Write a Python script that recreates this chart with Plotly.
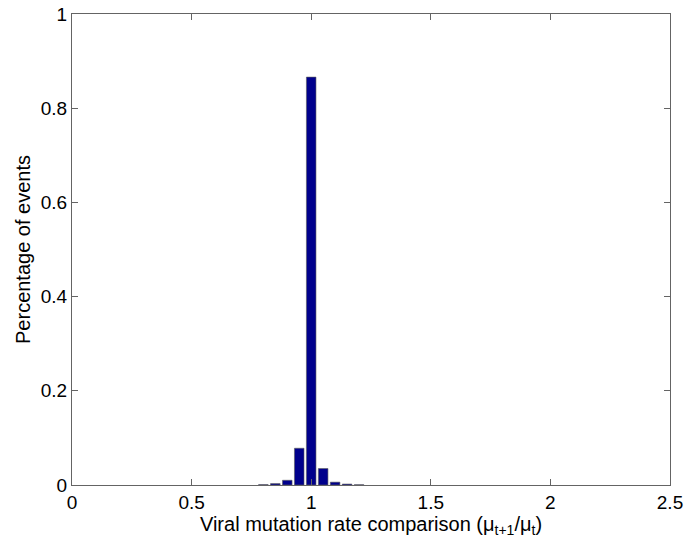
import plotly.graph_objects as go

bin_centers = [0.8, 0.85, 0.9, 0.95, 1.0, 1.05, 1.1, 1.15, 1.2]
fractions = [0.0008, 0.003, 0.010, 0.078, 0.866, 0.035, 0.006, 0.002, 0.0006]
x_ticks = [0, 0.5, 1, 1.5, 2, 2.5]
x_tick_labels = ["0", "0.5", "1", "1.5", "2", "2.5"]
y_ticks = [0, 0.2, 0.4, 0.6, 0.8, 1]
y_tick_labels = ["0", "0.2", "0.4", "0.6", "0.8", "1"]

fig = go.Figure(go.Bar(
    x=bin_centers, y=fractions, width=0.04,
    marker=dict(color="rgb(0,0,140)", line=dict(color="rgb(90,90,90)", width=0.6)),
))

tick_font = dict(family="Liberation Sans, Arial, sans-serif", size=19, color="black")
title_font = dict(family="Liberation Sans, Arial, sans-serif", size=20, color="black")
axis_common = dict(showline=True, mirror="ticks", linecolor="rgb(100,100,100)", linewidth=1,
                   ticks="inside", ticklen=6, tickcolor="rgb(100,100,100)",
                   showgrid=False, zeroline=False, tickfont=tick_font, automargin=False)

fig.update_layout(
    width=687, height=544,
    margin=dict(l=72, r=17, t=14, b=59),
    plot_bgcolor="white", paper_bgcolor="white",
    showlegend=False, font=tick_font,
    xaxis=dict(range=[0, 2.5], tickvals=x_ticks, ticktext=x_tick_labels,
               title=dict(text="Viral mutation rate comparison (μ<sub>t+1</sub>/μ<sub>t</sub>)",
                          font=title_font, standoff=0), **axis_common),
    yaxis=dict(range=[0, 1], tickvals=y_ticks, ticktext=y_tick_labels,
               title=dict(text="Percentage of events", font=title_font, standoff=4), **axis_common),
)

fig.write_html("out.html")
